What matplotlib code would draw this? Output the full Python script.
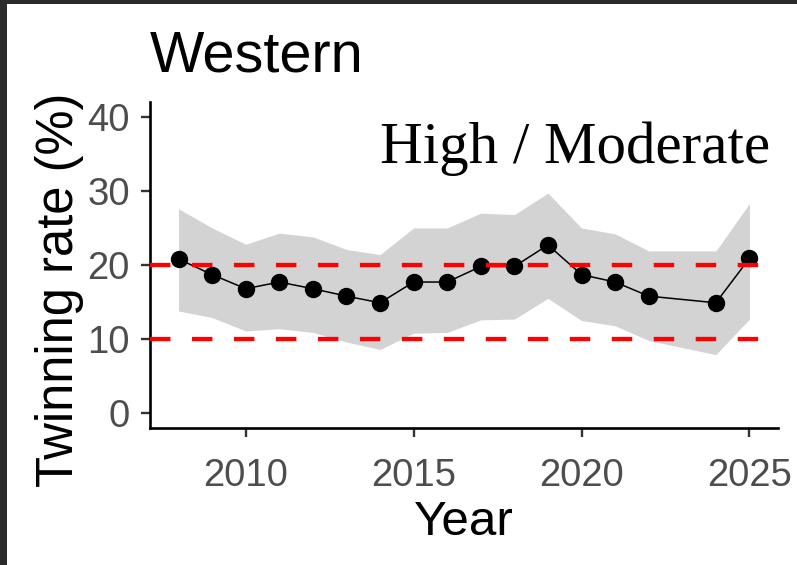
import matplotlib.pyplot as plt
from matplotlib.patches import Rectangle

years = [2008, 2009, 2010, 2011, 2012, 2013, 2014, 2015, 2016,
         2017, 2018, 2019, 2020, 2021, 2022, 2024, 2025]
rate = [20.8, 18.7, 16.8, 17.7, 16.8, 15.8, 14.9, 17.7, 17.7,
        19.8, 19.8, 22.7, 18.7, 17.7, 15.8, 14.9, 20.9]
upper = [27.6, 25.0, 22.8, 24.3, 23.8, 22.1, 21.4, 25.0, 25.0,
         27.0, 26.8, 29.7, 25.0, 24.2, 21.9, 21.9, 28.3]
lower = [13.8, 12.9, 11.1, 11.4, 10.9, 9.6, 8.6, 10.8, 10.9,
         12.6, 12.7, 15.5, 12.5, 11.8, 9.8, 7.9, 12.7]
thresholds = [20, 10]

W, H = 797, 565
fig = plt.figure(figsize=(W / 100, H / 100), dpi=100)
fig.patch.set_facecolor("#2b2b2b")
fig.patches.append(Rectangle((7 / W, 0), 1, 1 - 4 / H, transform=fig.transFigure,
                             facecolor="white", edgecolor="none", zorder=-5))

ax = fig.add_axes([150 / W, 1 - 428 / H, (778 - 150) / W, (428 - 102) / H])
ax.set_facecolor("white")
ax.set_zorder(1)

ax.fill_between(years, lower, upper, color="#d3d3d3", linewidth=0, zorder=1)
ax.plot(years, rate, color="black", linewidth=1.1, zorder=2)
ax.plot(years, rate, "o", color="black", markersize=11.5, zorder=3)
for t in thresholds:
    ax.axhline(t, color="red", linewidth=3.1, dashes=(4.75, 5.0), zorder=4)

ax.set_xlim(2007.15, 2025.85)
ax.set_ylim(-2, 42)
ax.set_xticks([2010, 2015, 2020, 2025])
ax.set_yticks([0, 10, 20, 30, 40])

for s in ["top", "right"]:
    ax.spines[s].set_visible(False)
for s in ["left", "bottom"]:
    ax.spines[s].set_linewidth(1.9)
    ax.spines[s].set_color("black")

ax.tick_params(axis="both", length=6.5, width=1.7, color="#333333",
               labelsize=27.5, labelcolor="#4d4d4d", labelfontfamily="Liberation Sans")
ax.tick_params(axis="y", pad=8)
ax.tick_params(axis="x", pad=15)

fig.text(150 / W, 1 - 72 / H, "Western", fontsize=41.5, family="Liberation Sans",
         ha="left", va="baseline", zorder=2)
fig.text(464 / W, 1 - 535 / H, "Year", fontsize=35.5, family="Liberation Sans",
         ha="center", va="baseline", zorder=2)
fig.text(60 / W, 1 - 290 / H, "Twinning rate (%)", fontsize=36.5, family="Liberation Sans",
         rotation=90, ha="center", va="center", zorder=2)
fig.text(770 / W, 1 - 163 / H, "High / Moderate", fontsize=42.5, family="Liberation Serif",
         ha="right", va="baseline", zorder=5)

fig.savefig("out.png", dpi=100, facecolor=fig.get_facecolor())
